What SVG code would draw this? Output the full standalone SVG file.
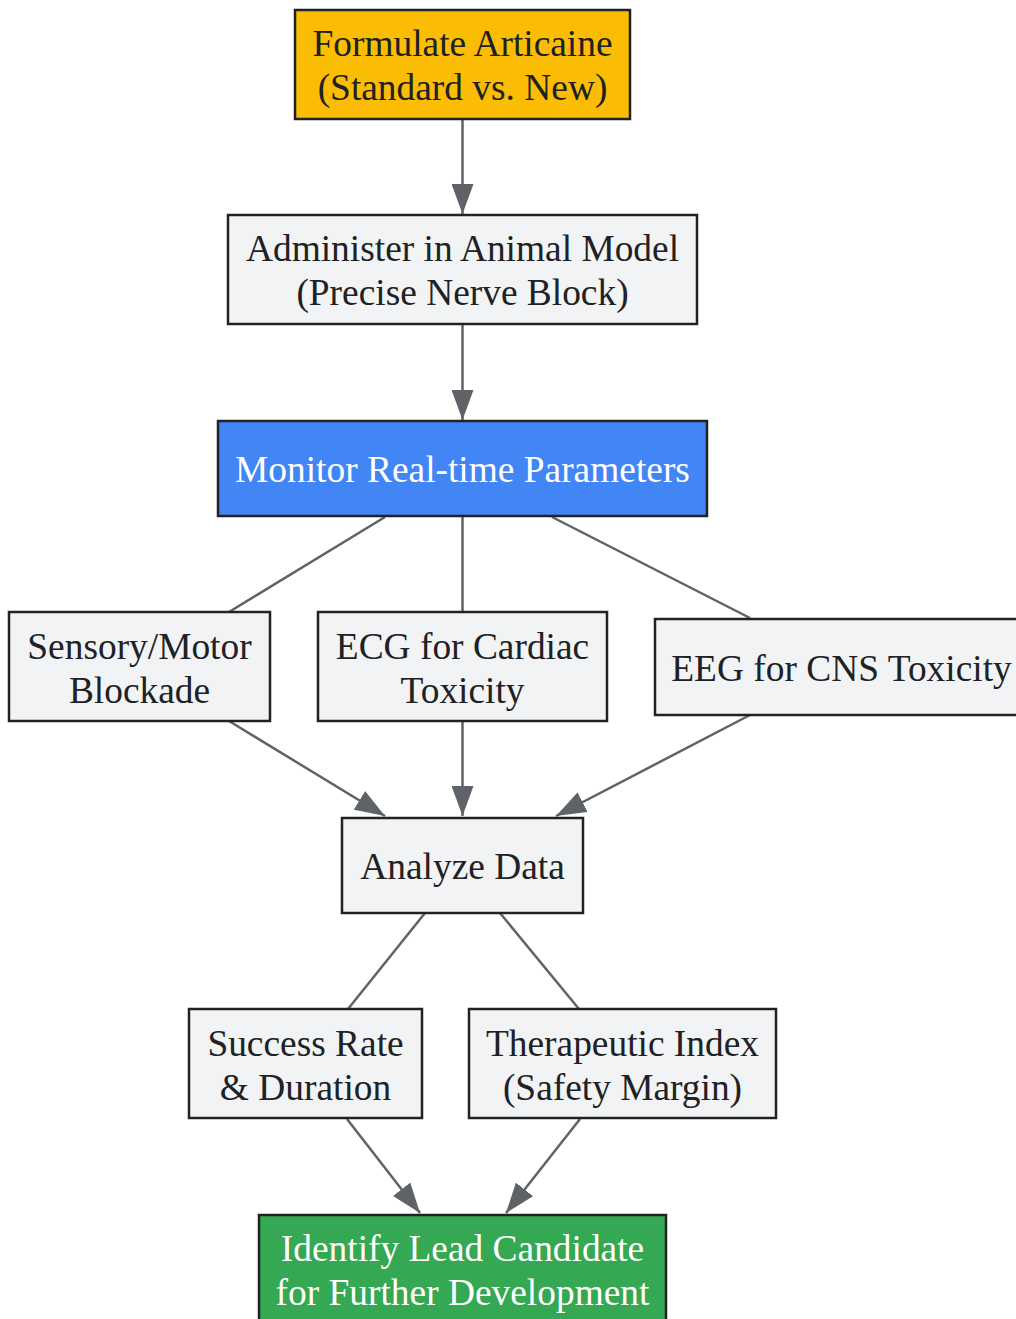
<svg xmlns="http://www.w3.org/2000/svg" width="1016" height="1319" viewBox="0 0 1016 1319">
<defs>
<style>
.n rect{fill:#F1F3F4;stroke:#222222;stroke-width:2.5}
.n text{font-family:"Liberation Serif","Times New Roman",serif;font-size:37.4px;fill:#202124;text-anchor:middle}
.w text{fill:#FFFFFF}
.e line{stroke:#5F6368;stroke-width:2.5;fill:none}
.a{marker-end:url(#arr)}
</style>
<marker id="arr" viewBox="0 0 30 22" refX="30" refY="11" markerWidth="30" markerHeight="22" markerUnits="userSpaceOnUse" orient="auto">
<path d="M0,0 L30,11 L0,22 Z" fill="#5F6368"/>
</marker>
</defs>
<rect width="1016" height="1319" fill="#FFFFFF"/>
<g id="edges" class="e">
<line class="a" x1="462.5" y1="119" x2="462.5" y2="214"/>
<line class="a" x1="462.5" y1="324" x2="462.5" y2="420"/>
<line x1="385" y1="517" x2="229" y2="612"/>
<line x1="462.5" y1="517" x2="462.5" y2="612"/>
<line x1="552" y1="517" x2="750" y2="618"/>
<line class="a" x1="229" y1="721" x2="385" y2="816"/>
<line class="a" x1="462.5" y1="721" x2="462.5" y2="816"/>
<line class="a" x1="750" y1="715" x2="556" y2="816"/>
<line x1="425" y1="913" x2="348" y2="1009"/>
<line x1="500" y1="913" x2="579" y2="1009"/>
<line class="a" x1="347" y1="1119" x2="420" y2="1213"/>
<line class="a" x1="580" y1="1119" x2="506" y2="1213"/>
</g>
<g id="formulate" class="n">
<rect x="295" y="10" width="335" height="109" style="fill:#FBBC04"/>
<text x="462.5" y="56">Formulate Articaine</text>
<text x="462.5" y="100">(Standard vs. New)</text>
</g>
<g id="administer" class="n">
<rect x="228" y="215" width="469" height="109"/>
<text x="462.5" y="261">Administer in Animal Model</text>
<text x="462.5" y="305">(Precise Nerve Block)</text>
</g>
<g id="monitor" class="n w">
<rect x="218" y="421" width="489" height="95" style="fill:#4285F4"/>
<text x="462.5" y="482">Monitor Real-time Parameters</text>
</g>
<g id="sensory" class="n">
<rect x="9" y="612" width="261" height="109"/>
<text x="139.5" y="659">Sensory/Motor</text>
<text x="139.5" y="703">Blockade</text>
</g>
<g id="ecg" class="n">
<rect x="318" y="612" width="289" height="109"/>
<text x="462.5" y="659">ECG for Cardiac</text>
<text x="462.5" y="703">Toxicity</text>
</g>
<g id="eeg" class="n">
<rect x="655" y="619" width="373" height="96"/>
<text x="841.5" y="681">EEG for CNS Toxicity</text>
</g>
<g id="analyze" class="n">
<rect x="342" y="818" width="241" height="95"/>
<text x="462.5" y="879">Analyze Data</text>
</g>
<g id="success" class="n">
<rect x="189" y="1009" width="233" height="109"/>
<text x="305.5" y="1056">Success Rate</text>
<text x="305.5" y="1100">&amp; Duration</text>
</g>
<g id="therapeutic" class="n">
<rect x="469" y="1009" width="307" height="109"/>
<text x="622.5" y="1056">Therapeutic Index</text>
<text x="622.5" y="1100">(Safety Margin)</text>
</g>
<g id="identify" class="n w">
<rect x="259" y="1215" width="407" height="120" style="fill:#34A853"/>
<text x="462.5" y="1261">Identify Lead Candidate</text>
<text x="462.5" y="1305">for Further Development</text>
</g>
</svg>
